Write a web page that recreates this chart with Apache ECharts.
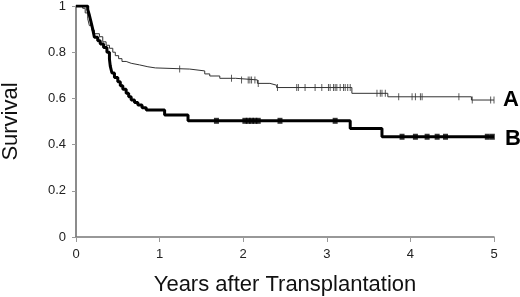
<!DOCTYPE html>
<html>
<head>
<meta charset="utf-8">
<script src="https://cdn.jsdelivr.net/npm/echarts@6/dist/echarts.min.js"></script>
<style>html,body{margin:0;padding:0;background:#fff}#c{width:520px;height:297px}</style>
</head>
<body>
<div id="c"></div>
<script>
var xTicks = [0, 1, 2, 3, 4, 5];
var yTicks = [0, 0.2, 0.4, 0.6, 0.8, 1];
var timesA = [0,0.08,0.11,0.14,0.16,0.19,0.22,0.28,0.32,0.36,0.4,0.44,0.47,0.51,0.55,0.6,0.66,0.76,0.86,0.95,1.36,1.54,1.6,1.72,1.91,2.17,2.32,2.4,3.3,3.73,4.73,5.0];
var survA  = [1,0.99,0.97,0.945,0.915,0.895,0.88,0.867,0.845,0.83,0.817,0.8,0.785,0.772,0.76,0.752,0.745,0.737,0.732,0.727,0.719,0.706,0.697,0.687,0.68,0.665,0.657,0.647,0.622,0.607,0.593,0.593];
var timesB = [0,0.14,0.16,0.18,0.2,0.22,0.26,0.29,0.33,0.37,0.4,0.41,0.43,0.46,0.5,0.53,0.56,0.6,0.63,0.66,0.7,0.74,0.79,0.84,1.06,1.34,3.28,3.66,5.0];
var survB  = [1,0.985,0.96,0.93,0.9,0.865,0.85,0.835,0.82,0.8,0.77,0.74,0.71,0.69,0.672,0.655,0.64,0.622,0.607,0.593,0.582,0.571,0.56,0.55,0.528,0.503,0.47,0.434,0.434];
var censorA = [1.24,1.86,1.98,2.06,2.08,2.1,2.14,2.18,2.41,2.64,2.66,2.74,2.86,2.94,3.02,3.04,3.08,3.1,3.12,3.16,3.2,3.22,3.25,3.28,3.6,3.64,3.66,3.7,3.86,4.02,4.06,4.12,4.14,4.58,4.74,4.96,5.0];
var censorB = [1.68,2.02,2.06,2.1,2.14,2.18,2.44,3.1,3.9,4.06,4.2,4.32,4.42,4.92,4.98];
var labelA = 'A', labelB = 'B';

function stepAt(ts, vs, t) {
  var v = vs[0];
  for (var i = 0; i < ts.length; i++) { if (ts[i] <= t) v = vs[i]; }
  return v;
}
function zip(a, b) { return a.map(function (x, i) { return [x, b[i]]; }); }

var chart = echarts.init(document.getElementById('c'), null, {renderer: 'canvas'});
chart.setOption({
  animation: false,
  grid: {left: 76, right: 26, top: 6, bottom: 60, containLabel: false, outerBoundsMode: 'none'},
  xAxis: {
    type: 'value', min: xTicks[0], max: xTicks[xTicks.length - 1], interval: 1,
    name: 'Years after Transplantation', nameLocation: 'middle', nameGap: 37,
    nameTextStyle: {fontFamily: 'Liberation Sans', fontSize: 22, color: '#111'},
    axisLine: {lineStyle: {color: '#777', width: 1.5}},
    axisTick: {show: true, length: 5, lineStyle: {color: '#999'}},
    axisLabel: {fontFamily: 'Liberation Sans', fontSize: 13, color: '#222', margin: 11},
    splitLine: {show: false}
  },
  yAxis: {
    type: 'value', min: yTicks[0], max: yTicks[yTicks.length - 1], interval: 0.2,
    name: 'Survival', nameLocation: 'middle', nameGap: 54, nameRotate: 90,
    nameTextStyle: {fontFamily: 'Liberation Sans', fontSize: 22, color: '#111'},
    axisLine: {show: true, lineStyle: {color: '#666', width: 1.5}},
    axisTick: {show: true, length: 4, lineStyle: {color: '#999'}},
    axisLabel: {fontFamily: 'Liberation Sans', fontSize: 13, color: '#222', margin: 10},
    splitLine: {show: false}
  },
  series: [
    {
      type: 'line', step: 'end', data: zip(timesA, survA), showSymbol: false,
      lineStyle: {color: '#333', width: 1}, z: 2,
      endLabel: {show: true, formatter: labelA, fontFamily: 'Liberation Sans', fontWeight: 'bold', fontSize: 22, color: '#000', distance: 9, offset: [0, 0]}
    },
    {
      type: 'line', step: 'end', data: zip(timesB, survB), showSymbol: false,
      lineStyle: {color: '#000', width: 3}, z: 3,
      endLabel: {show: true, formatter: labelB, fontFamily: 'Liberation Sans', fontWeight: 'bold', fontSize: 22, color: '#000', distance: 11, offset: [0, 2]}
    },
    {
      type: 'scatter', symbol: 'rect', symbolSize: [1, 7], z: 4,
      itemStyle: {color: '#333'},
      data: censorA.map(function (t) { return [t, stepAt(timesA, survA, t)]; })
    },
    {
      type: 'scatter', symbol: 'rect', symbolSize: [5, 6], z: 5,
      itemStyle: {color: '#000'},
      data: censorB.map(function (t) { return [t, stepAt(timesB, survB, t)]; })
    }
  ]
});
</script>
</body>
</html>
